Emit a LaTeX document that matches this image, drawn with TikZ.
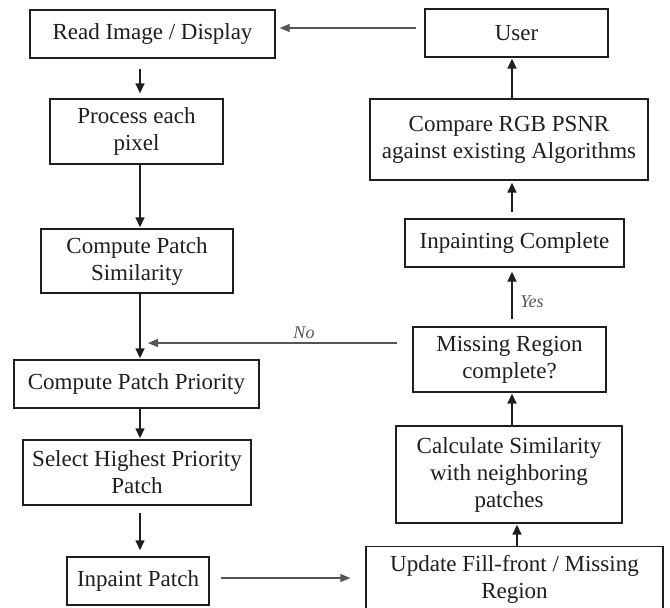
\documentclass[tikz,border=0pt]{standalone}
\usepackage{fontspec}
\setmainfont{Liberation Serif}
\usetikzlibrary{arrows.meta}
\definecolor{ink}{HTML}{1E1E1E}
\definecolor{thin}{HTML}{555555}
\tikzset{
  box/.style={draw=ink, line width=1.4pt, rectangle, inner sep=0pt, align=center,
    text=ink, font=\fontsize{23}{27}\selectfont},
  arr/.style={draw=ink, line width=1.6pt, -{Triangle[length=10pt,width=9pt]}},
  garr/.style={draw=thin, line width=1.1pt, -{Triangle[length=10pt,width=8pt]}},
  lbl/.style={text=thin, font=\fontsize{18}{20}\selectfont\itshape, inner sep=0pt}
}
\begin{document}
\begin{tikzpicture}[x=1pt,y=-1pt]
\useasboundingbox (0,0) rectangle (670,608);
\clip (0,0) rectangle (670,608);
% left column
\node[box, minimum width=245pt, minimum height=48pt] (read) at (152.5,34) {Read Image / Display};
\node[box, minimum width=173pt, minimum height=65pt] (proc) at (136.5,131.5) {Process each\\pixel};
\node[box, minimum width=192pt, minimum height=64pt] (csim) at (137,261) {Compute Patch\\Similarity};
\node[box, minimum width=245pt, minimum height=48pt] (cpp) at (136.5,384) {Compute Patch Priority};
\node[box, minimum width=228pt, minimum height=65pt] (sel) at (137,472.5) {Select Highest Priority\\Patch};
\node[box, minimum width=142pt, minimum height=48pt] (inp) at (138,581) {Inpaint Patch};
% right column
\node[box, minimum width=183pt, minimum height=48pt] (user) at (516.5,33) {User};
\node[box, minimum width=278pt, minimum height=81pt] (cmp) at (509,139.5) {Compare RGB PSNR\\against existing Algorithms};
\node[box, minimum width=219pt, minimum height=48pt] (ic) at (514.5,243) {Inpainting Complete};
\node[box, minimum width=193pt, minimum height=65pt] (mr) at (509.5,359.5) {Missing Region\\complete?};
\node[box, minimum width=226pt, minimum height=97pt] (calc) at (509,474.5) {Calculate Similarity\\with neighboring\\patches};
\node[box, minimum width=297pt, minimum height=66pt, anchor=north] (upd) at (514.5,546) {Update Fill-front / Missing\\Region};
% connectors, left column
\draw[arr, shorten <=10pt, shorten >=5pt] (read.south -| 140,0) -- (proc.north -| 140,0);
\draw[arr, shorten >=1pt] (proc.south -| 140,0) -- (csim.north -| 140,0);
\draw[arr, shorten >=1pt] (csim.south -| 140,0) -- (cpp.north -| 140,0);
\draw[arr, shorten >=1pt] (cpp.south -| 140,0) -- (sel.north -| 140,0);
\draw[arr, shorten <=7pt, shorten >=6pt] (sel.south -| 140,0) -- (inp.north -| 140,0);
% bottom crossing
\draw[garr, shorten <=11pt, shorten >=15pt] (inp.east |- 0,578) -- (upd.west |- 0,578);
% right column upward
\draw[arr, shorten >=1pt] (upd.north -| 517,0) -- (calc.south -| 517,0);
\draw[arr, shorten >=1pt] (calc.north -| 512,0) -- (mr.south -| 512,0);
\draw[arr, shorten <=7pt, shorten >=4pt] (mr.north -| 512,0) -- (ic.south -| 512,0);
\draw[arr, shorten <=6pt, shorten >=2pt] (ic.north -| 512,0) -- (cmp.south -| 512,0);
\draw[arr, shorten >=1pt] (cmp.north -| 512,0) -- (user.south -| 512,0);
% top crossing
\draw[garr, shorten <=8pt, shorten >=4pt] (user.west |- 0,28) -- (read.east |- 0,28);
% No loop
\coordinate (noend) at (148,343);
\draw[garr, shorten <=15pt, shorten >=0pt] (mr.west |- noend) -- (noend);
\node[lbl] (nolbl) at (304,333) {No};
\node[lbl] (yeslbl) at (532,302) {Yes};
\end{tikzpicture}
\end{document}
